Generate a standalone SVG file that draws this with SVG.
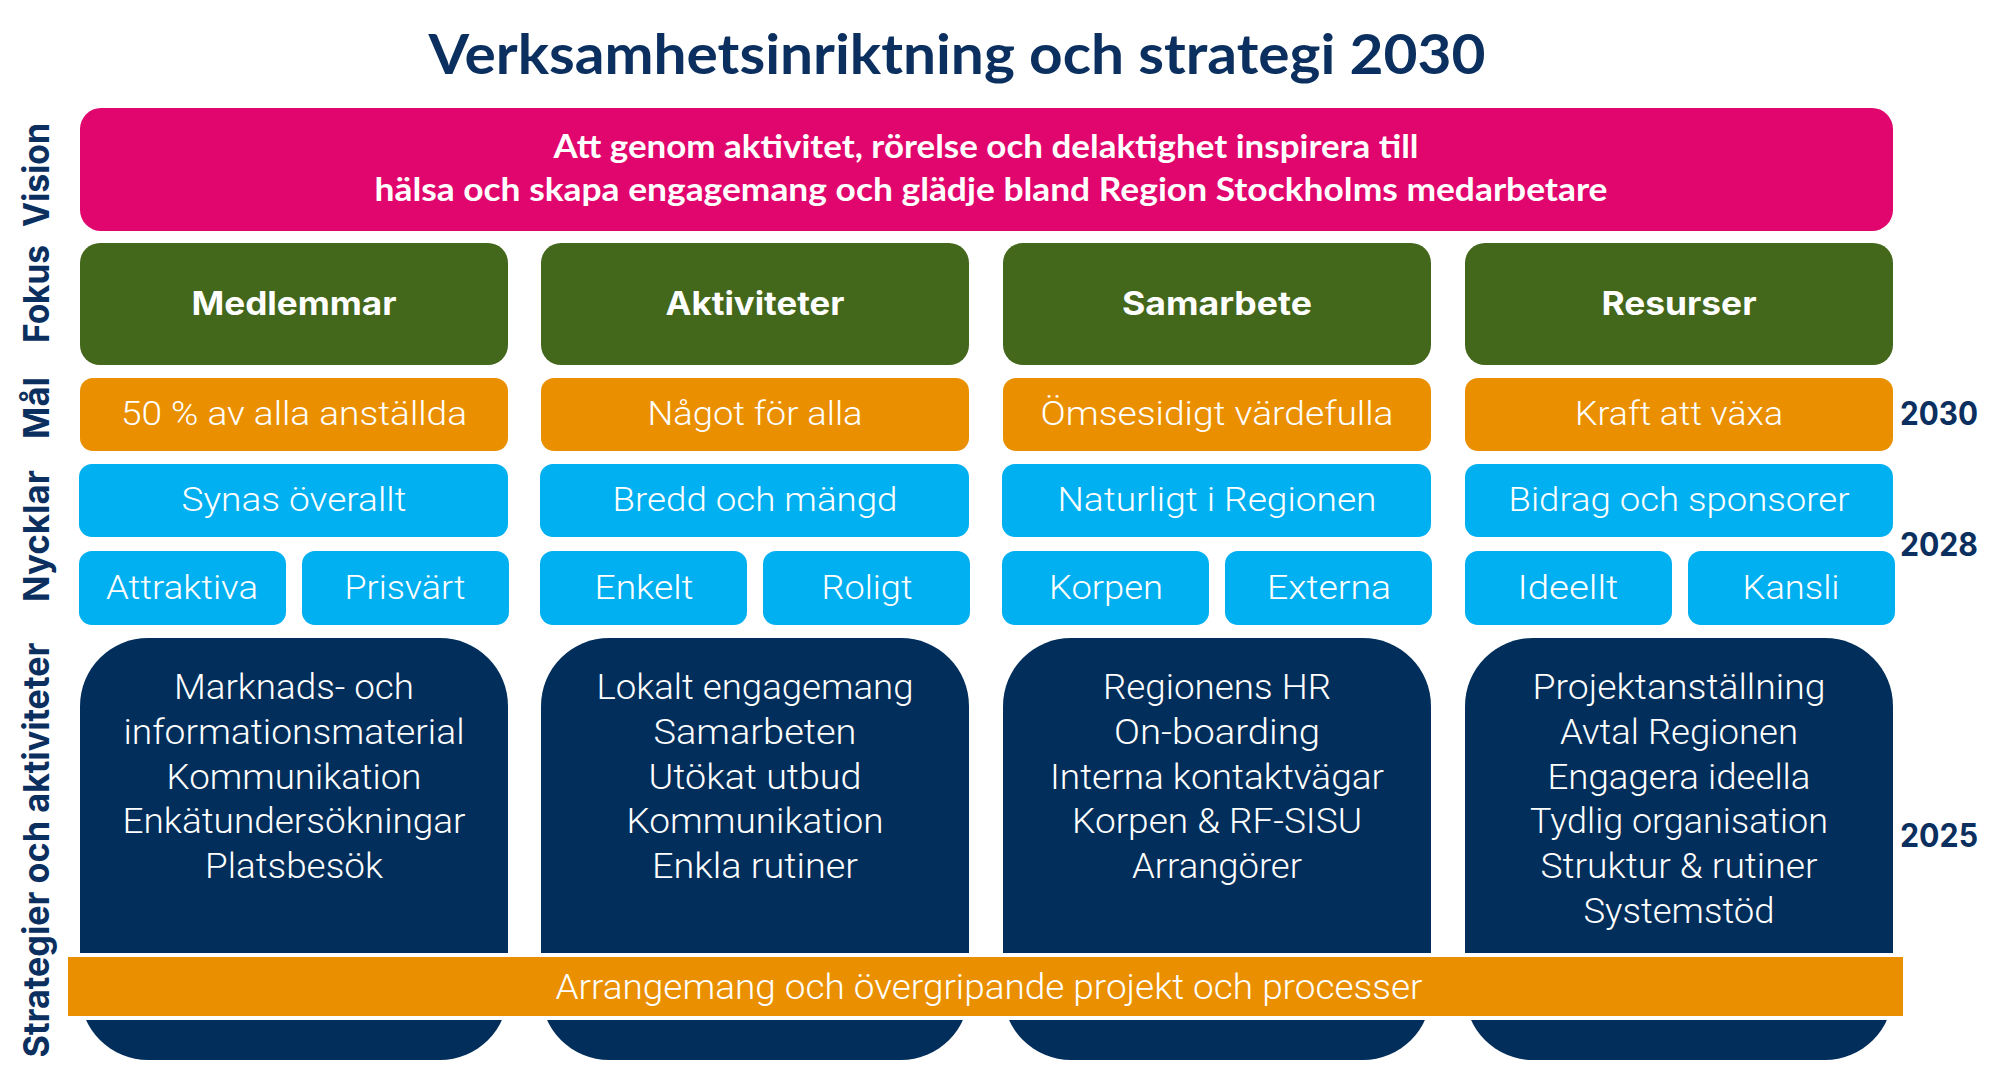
<svg xmlns="http://www.w3.org/2000/svg" width="2003" height="1084" viewBox="0 0 2003 1084">
<style>
.title{font-family:Lato,"Open Sans","Liberation Sans",sans-serif;font-weight:700;font-size:55px;fill:#0B2F5E;text-anchor:middle}
.vis{font-family:Lato,"Open Sans","Liberation Sans",sans-serif;font-weight:700;font-size:33px;fill:#fff;text-anchor:middle}
.side{font-family:Inter,"Liberation Sans",sans-serif;font-weight:700;font-size:36px;fill:#0B2F5E;text-anchor:middle}
.year{font-family:Inter,"Liberation Sans",sans-serif;font-weight:700;font-size:32px;fill:#0B2F5E}
.head{font-family:Inter,"Liberation Sans",sans-serif;font-weight:700;font-size:32px;fill:#fff;text-anchor:middle}
.row{font-family:Roboto,"Liberation Sans",sans-serif;font-weight:300;font-size:33px;fill:#fff;text-anchor:middle}
.body{font-family:Roboto,"Liberation Sans",sans-serif;font-weight:300;font-size:35px;fill:#fff;text-anchor:middle}
.vision{fill:#E1066E}
.green{fill:#43671B}
.orange{fill:#EA9000}
.blue{fill:#00B0F0}
.dark{fill:#022E5B}
</style>

<g id="title">
<text class="title" x="957" y="74" textLength="1057" lengthAdjust="spacingAndGlyphs">Verksamhetsinriktning och strategi 2030</text>
</g>

<g id="side-labels">
<text class="side" transform="translate(49,175) rotate(-90)" textLength="104" lengthAdjust="spacingAndGlyphs">Vision</text>
<text class="side" transform="translate(49,294) rotate(-90)" textLength="98" lengthAdjust="spacingAndGlyphs">Fokus</text>
<text class="side" transform="translate(49,408) rotate(-90)" textLength="62" lengthAdjust="spacingAndGlyphs">Mål</text>
<text class="side" transform="translate(49,536) rotate(-90)" textLength="132" lengthAdjust="spacingAndGlyphs">Nycklar</text>
<text class="side" transform="translate(49,850) rotate(-90)" textLength="415" lengthAdjust="spacingAndGlyphs">Strategier och aktiviteter</text>
</g>

<g id="years">
<text class="year" x="1900" y="425" textLength="78" lengthAdjust="spacingAndGlyphs">2030</text>
<text class="year" x="1900" y="556" textLength="78" lengthAdjust="spacingAndGlyphs">2028</text>
<text class="year" x="1900" y="847" textLength="78" lengthAdjust="spacingAndGlyphs">2025</text>
</g>

<g id="vision">
<rect class="vision" x="80" y="108" width="1813" height="123" rx="21"/>
<text class="vis" x="986" y="158" textLength="865" lengthAdjust="spacingAndGlyphs">Att genom aktivitet, rörelse och delaktighet inspirera till</text>
<text class="vis" x="991" y="201" textLength="1233" lengthAdjust="spacingAndGlyphs">hälsa och skapa engagemang och glädje bland Region Stockholms medarbetare</text>
</g>

<!-- Column 1: Medlemmar -->
<g id="fokus-medlemmar">
<rect class="green" x="80" y="243" width="428" height="122" rx="20"/>
<text class="head" x="294" y="315" textLength="205" lengthAdjust="spacingAndGlyphs">Medlemmar</text>
</g>
<g id="mal-medlemmar">
<rect class="orange" x="80" y="378" width="428" height="73" rx="13"/>
<text class="row" x="294" y="425" textLength="346" lengthAdjust="spacingAndGlyphs">50 % av alla anställda</text>
</g>
<g id="nyckel-synas">
<rect class="blue" x="79" y="464" width="429" height="73" rx="13"/>
<text class="row" x="294" y="511" textLength="225" lengthAdjust="spacingAndGlyphs">Synas överallt</text>
</g>
<g id="nyckel-attraktiva">
<rect class="blue" x="79" y="551" width="207" height="74" rx="13"/>
<text class="row" x="182" y="599" textLength="152" lengthAdjust="spacingAndGlyphs">Attraktiva</text>
</g>
<g id="nyckel-prisvart">
<rect class="blue" x="302" y="551" width="207" height="74" rx="13"/>
<text class="row" x="405" y="599" textLength="121" lengthAdjust="spacingAndGlyphs">Prisvärt</text>
</g>
<g id="strategi-medlemmar">
<rect class="dark" x="80" y="638" width="428" height="422" rx="68"/>
<text class="body" x="294" y="699" textLength="240" lengthAdjust="spacingAndGlyphs">Marknads- och</text>
<text class="body" x="294" y="744" textLength="341" lengthAdjust="spacingAndGlyphs">informationsmaterial</text>
<text class="body" x="294" y="789" textLength="255" lengthAdjust="spacingAndGlyphs">Kommunikation</text>
<text class="body" x="294" y="833" textLength="343" lengthAdjust="spacingAndGlyphs">Enkätundersökningar</text>
<text class="body" x="294" y="878" textLength="178" lengthAdjust="spacingAndGlyphs">Platsbesök</text>
</g>

<!-- Column 2: Aktiviteter -->
<g id="fokus-aktiviteter">
<rect class="green" x="541" y="243" width="428" height="122" rx="20"/>
<text class="head" x="755" y="315" textLength="179" lengthAdjust="spacingAndGlyphs">Aktiviteter</text>
</g>
<g id="mal-aktiviteter">
<rect class="orange" x="541" y="378" width="428" height="73" rx="13"/>
<text class="row" x="755" y="425" textLength="215" lengthAdjust="spacingAndGlyphs">Något för alla</text>
</g>
<g id="nyckel-bredd">
<rect class="blue" x="540" y="464" width="429" height="73" rx="13"/>
<text class="row" x="755" y="511" textLength="285" lengthAdjust="spacingAndGlyphs">Bredd och mängd</text>
</g>
<g id="nyckel-enkelt">
<rect class="blue" x="540" y="551" width="207" height="74" rx="13"/>
<text class="row" x="644" y="599" textLength="99" lengthAdjust="spacingAndGlyphs">Enkelt</text>
</g>
<g id="nyckel-roligt">
<rect class="blue" x="763" y="551" width="207" height="74" rx="13"/>
<text class="row" x="867" y="599" textLength="91" lengthAdjust="spacingAndGlyphs">Roligt</text>
</g>
<g id="strategi-aktiviteter">
<rect class="dark" x="541" y="638" width="428" height="422" rx="68"/>
<text class="body" x="755" y="699" textLength="317" lengthAdjust="spacingAndGlyphs">Lokalt engagemang</text>
<text class="body" x="755" y="744" textLength="203" lengthAdjust="spacingAndGlyphs">Samarbeten</text>
<text class="body" x="755" y="789" textLength="213" lengthAdjust="spacingAndGlyphs">Utökat utbud</text>
<text class="body" x="755" y="833" textLength="257" lengthAdjust="spacingAndGlyphs">Kommunikation</text>
<text class="body" x="755" y="878" textLength="206" lengthAdjust="spacingAndGlyphs">Enkla rutiner</text>
</g>

<!-- Column 3: Samarbete -->
<g id="fokus-samarbete">
<rect class="green" x="1003" y="243" width="428" height="122" rx="20"/>
<text class="head" x="1217" y="315" textLength="190" lengthAdjust="spacingAndGlyphs">Samarbete</text>
</g>
<g id="mal-samarbete">
<rect class="orange" x="1003" y="378" width="428" height="73" rx="13"/>
<text class="row" x="1217" y="425" textLength="353" lengthAdjust="spacingAndGlyphs">Ömsesidigt värdefulla</text>
</g>
<g id="nyckel-naturligt">
<rect class="blue" x="1002" y="464" width="429" height="73" rx="13"/>
<text class="row" x="1217" y="511" textLength="319" lengthAdjust="spacingAndGlyphs">Naturligt i Regionen</text>
</g>
<g id="nyckel-korpen">
<rect class="blue" x="1002" y="551" width="207" height="74" rx="13"/>
<text class="row" x="1106" y="599" textLength="114" lengthAdjust="spacingAndGlyphs">Korpen</text>
</g>
<g id="nyckel-externa">
<rect class="blue" x="1225" y="551" width="207" height="74" rx="13"/>
<text class="row" x="1329" y="599" textLength="124" lengthAdjust="spacingAndGlyphs">Externa</text>
</g>
<g id="strategi-samarbete">
<rect class="dark" x="1003" y="638" width="428" height="422" rx="68"/>
<text class="body" x="1217" y="699" textLength="228" lengthAdjust="spacingAndGlyphs">Regionens HR</text>
<text class="body" x="1217" y="744" textLength="206" lengthAdjust="spacingAndGlyphs">On-boarding</text>
<text class="body" x="1217" y="789" textLength="334" lengthAdjust="spacingAndGlyphs">Interna kontaktvägar</text>
<text class="body" x="1217" y="833" textLength="290" lengthAdjust="spacingAndGlyphs">Korpen &amp; RF-SISU</text>
<text class="body" x="1217" y="878" textLength="170" lengthAdjust="spacingAndGlyphs">Arrangörer</text>
</g>

<!-- Column 4: Resurser -->
<g id="fokus-resurser">
<rect class="green" x="1465" y="243" width="428" height="122" rx="20"/>
<text class="head" x="1679" y="315" textLength="155" lengthAdjust="spacingAndGlyphs">Resurser</text>
</g>
<g id="mal-resurser">
<rect class="orange" x="1465" y="378" width="428" height="73" rx="13"/>
<text class="row" x="1679" y="425" textLength="208" lengthAdjust="spacingAndGlyphs">Kraft att växa</text>
</g>
<g id="nyckel-bidrag">
<rect class="blue" x="1465" y="464" width="428" height="73" rx="13"/>
<text class="row" x="1679" y="511" textLength="341" lengthAdjust="spacingAndGlyphs">Bidrag och sponsorer</text>
</g>
<g id="nyckel-ideellt">
<rect class="blue" x="1465" y="551" width="207" height="74" rx="13"/>
<text class="row" x="1568" y="599" textLength="101" lengthAdjust="spacingAndGlyphs">Ideellt</text>
</g>
<g id="nyckel-kansli">
<rect class="blue" x="1688" y="551" width="207" height="74" rx="13"/>
<text class="row" x="1791" y="599" textLength="97" lengthAdjust="spacingAndGlyphs">Kansli</text>
</g>
<g id="strategi-resurser">
<rect class="dark" x="1465" y="638" width="428" height="422" rx="68"/>
<text class="body" x="1679" y="699" textLength="293" lengthAdjust="spacingAndGlyphs">Projektanställning</text>
<text class="body" x="1679" y="744" textLength="238" lengthAdjust="spacingAndGlyphs">Avtal Regionen</text>
<text class="body" x="1679" y="789" textLength="263" lengthAdjust="spacingAndGlyphs">Engagera ideella</text>
<text class="body" x="1679" y="833" textLength="298" lengthAdjust="spacingAndGlyphs">Tydlig organisation</text>
<text class="body" x="1679" y="878" textLength="277" lengthAdjust="spacingAndGlyphs">Struktur &amp; rutiner</text>
<text class="body" x="1679" y="923" textLength="191" lengthAdjust="spacingAndGlyphs">Systemstöd</text>
</g>

<g id="band">
<rect fill="#fff" x="68" y="953" width="1835" height="67"/>
<rect class="orange" x="68" y="957" width="1835" height="59"/>
<text class="body" x="989" y="999" textLength="867" lengthAdjust="spacingAndGlyphs">Arrangemang och övergripande projekt och processer</text>
</g>
</svg>
